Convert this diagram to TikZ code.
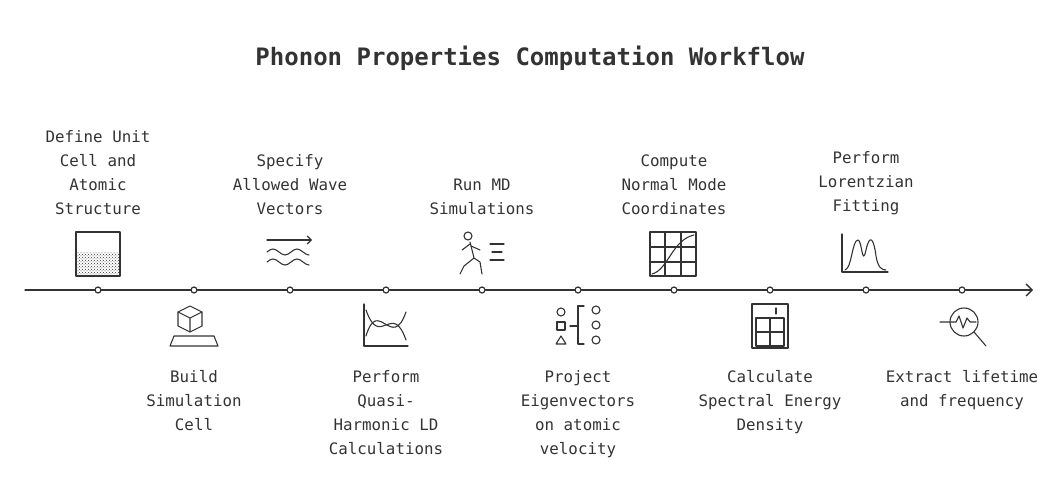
\documentclass[tikz,border=0pt]{standalone}
\usepackage{fontspec}
\setmainfont{DejaVu Sans Mono}
\usetikzlibrary{arrows.meta,patterns}
\begin{document}
\begin{tikzpicture}[x=1pt,y=-1pt,line cap=round,line join=round,
  lbl/.style={align=center,font=\fontsize{15.8}{24}\selectfont,text=black!80,inner sep=0},
  dot/.style={circle,draw=black!80,fill=white,line width=1.2pt,minimum size=6pt,inner sep=0},
  ic/.style={draw=black!80,line width=1.1pt}]
\useasboundingbox (0,0) rectangle (1060,484);
\node[font=\fontsize{24}{28}\bfseries\selectfont,text=black!80] (title) at (530,58) {Phonon Properties Computation Workflow};
\coordinate (s) at (25,290); \coordinate (e) at (1033,290);
\draw[black!80,line width=1.3pt,-{Straight Barb[length=6pt]}] (s) -- (e);
\foreach \i/\x in {1/98,2/194,3/290,4/386,5/482,6/578,7/674,8/770,9/866,10/962}
  \node[dot] (d\i) at (\x,290) {};
% labels above
\node[lbl,anchor=south] (l1) at (98,215) {Define Unit\\Cell and\\Atomic\\Structure};
\node[lbl,anchor=south] (l3) at (290,215) {Specify\\Allowed Wave\\Vectors};
\node[lbl,anchor=south] (l5) at (482,215) {Run MD\\Simulations};
\node[lbl,anchor=south] (l7) at (674,215) {Compute\\Normal Mode\\Coordinates};
\node[lbl,anchor=south] (l9) at (866,215) {Perform\\Lorentzian\\Fitting};
% labels below
\node[lbl,anchor=north] (l2) at (194,370) {Build\\Simulation\\Cell};
\node[lbl,anchor=north] (l4) at (386,370) {Perform\\Quasi-\\Harmonic LD\\Calculations};
\node[lbl,anchor=north] (l6) at (578,370) {Project\\Eigenvectors\\on atomic\\velocity};
\node[lbl,anchor=north] (l8) at (770,370) {Calculate\\Spectral Energy\\Density};
\node[lbl,anchor=north] (l10) at (962,370) {Extract lifetime\\and frequency};
% icon 1: box with dotted fill
\draw[ic] (76,232) rectangle (120,276);
\fill[pattern=crosshatch dots,pattern color=black!80] (77,252) rectangle (119,275);
% icon 3: arrow + waves
\draw[ic,-{Straight Barb[length=4pt]}] (267,240) -- (312,240);
\foreach \yy in {252,262} \draw[ic] (267,\yy) sin (273,\yy-3) cos (279,\yy) sin (285,\yy+3) cos (291,\yy) sin (297,\yy-3) cos (303,\yy) sin (309,\yy+3);
% icon 5: runner
\draw[ic] (468,236) circle (4);
\draw[ic] (470,242) -- (474,258) -- (480,262) -- (482,274);
\draw[ic] (474,258) -- (464,266) -- (460,274);
\draw[ic] (470,244) -- (462,250); \draw[ic] (471,246) -- (480,250);
\draw[ic] (490,244)--(504,244) (492,252)--(502,252) (490,260)--(504,260);
% icon 7: grid with curve
\draw[ic] (650,232) rectangle (696,276);
\draw[ic] (665,232)--(665,276) (681,232)--(681,276) (650,247)--(696,247) (650,262)--(696,262);
\draw[ic] (652,274) .. controls (668,270) and (672,240) .. (694,235);
% icon 9: peaks
\draw[ic] (842,234) -- (842,272) -- (888,272);
\draw[ic] (845,270) .. controls (852,268) and (852,240) .. (858,240) .. controls (862,240) and (862,268) .. (866,250) .. controls (870,232) and (874,240) .. (876,256) .. controls (878,268) and (882,270) .. (886,270);
% icon 2: cube on platform
\draw[ic] (178,312) -- (190,306) -- (202,312) -- (202,326) -- (190,332) -- (178,326) -- cycle;
\draw[ic] (178,312) -- (190,318) -- (202,312) (190,318) -- (190,332);
\draw[ic] (174,336) -- (214,336) -- (218,346) -- (170,346) -- cycle;
% icon 4: chart
\draw[ic] (364,304) -- (364,346) -- (408,346);
\draw[ic] (366,336) .. controls (378,296) and (392,352) .. (406,312);
\draw[ic] (366,310) .. controls (380,350) and (392,300) .. (406,340);
% icon 6: shapes and circles
\draw[ic] (561,312) circle (4); \draw[ic] (557,322) rectangle (565,330);
\draw[ic] (556,344) -- (561,336) -- (566,344) -- cycle;
\draw[ic] (584,306)--(578,306)--(578,344)--(584,344) (570,326)--(578,326);
\foreach \yy in {310,325,340} \draw[ic] (596,\yy) circle (4);
% icon 8: calculator
\draw[ic] (752,304) rectangle (788,348);
\draw[ic] (756,318) -- (784,318) -- (784,346) -- (756,346) -- cycle;
\draw[ic] (770,318)--(770,346) (756,332)--(784,332);
\draw[ic] (776,308)--(776,314);
% icon 10: magnifier
\draw[ic] (964,322) circle (14);
\draw[ic] (974,332) -- (986,346);
\draw[ic] (940,322) -- (956,322) -- (959,316) -- (963,328) -- (967,318) -- (970,322) -- (976,322);
\end{tikzpicture}
\end{document}
